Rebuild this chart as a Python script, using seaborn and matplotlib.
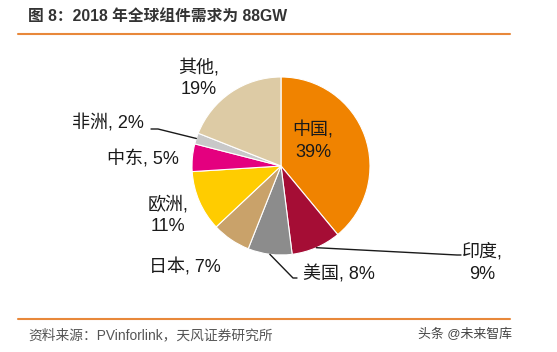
import numpy as np
import seaborn as sns
import matplotlib.pyplot as plt

# 2018 global module demand share
regions = ['中国', '印度', '美国', '日本', '欧洲', '中东', '非洲', '其他']
shares = [39, 9, 8, 7, 11, 5, 2, 19]
colors = ['#F08300', '#A50D35', '#8C8C8C', '#C9A26A', '#FFCC00', '#E4007F', '#C8C8C8', '#DDCBA5']
label_text = ['中国,\n39%', '印度,\n9%', '美国, 8%', '日本, 7%', '欧洲,\n11%', '中东, 5%', '非洲, 2%', '其他,\n19%']

sns.set_theme(style='white')
plt.rcParams['font.family'] = ['Liberation Sans', 'Noto Sans CJK SC', 'DejaVu Sans']

W, H = 557, 352
CX, CY, R = 281, 166, 89   # pie centre / radius in pixels


def px(x, y):
    # pixel position (from top-left) -> data coords of the full-figure axes
    return (x - CX) / R, (CY - y) / R


fig = plt.figure(figsize=(W / 100, H / 100), dpi=100)
ax = fig.add_axes([0, 0, 1, 1])

wedges, _ = ax.pie(shares, colors=colors, startangle=90, counterclock=False,
                   radius=1, wedgeprops=dict(edgecolor='white', linewidth=0.8))
ax.set_xlim(-CX / R, (W - CX) / R)
ax.set_ylim(-(H - CY) / R, CY / R)
ax.set_aspect('equal')
ax.axis('off')

# label centres in pixels
label_pos = {
    '中国': (313, 141),
    '印度': (482, 263),
    '美国': (339, 274),
    '日本': (185, 267),
    '欧洲': (168, 215),
    '中东': (143, 159),
    '非洲': (108, 123),
    '其他': (199, 78),
}
for name, txt in zip(regions, label_text):
    x, y = px(*label_pos[name])
    ax.text(x, y, txt, ha='center', va='center', fontsize=13,
            color='#1a1a1a', linespacing=1.35)


def edge_point(i):
    w = wedges[i]
    ang = np.deg2rad((w.theta1 + w.theta2) / 2)
    return np.cos(ang), np.sin(ang)


# leader lines
leaders = {
    '非洲': [(158, 129), (151, 129)],
    '美国': [(293, 278), (297, 278)],
    '印度': [(457, 255), (461, 255)],
}
for name, pts in leaders.items():
    i = regions.index(name)
    x0, y0 = edge_point(i)
    xs = [x0] + [px(*p)[0] for p in pts]
    ys = [y0] + [px(*p)[1] for p in pts]
    ax.plot(xs, ys, color='#1a1a1a', linewidth=1.0)

# title and source
fig.text(28 / W, 1 - 16 / H, '图 8：2018 年全球组件需求为 88GW', fontsize=11.3,
         fontweight='bold', color='#333333', ha='left', va='center')
fig.add_artist(plt.Line2D([18 / W, 510 / W], [1 - 34 / H, 1 - 34 / H],
                          color='#E8883A', linewidth=1.5))
fig.add_artist(plt.Line2D([18 / W, 510 / W], [1 - 319 / H, 1 - 319 / H],
                          color='#E8883A', linewidth=1.5))
fig.text(28 / W, 1 - 335 / H, '资料来源：PVinforlink，天风证券研究所', fontsize=9.9,
         color='#555555', ha='left', va='center')
fig.text(512 / W, 1 - 335 / H, '头条 @未来智库', fontsize=9.3,
         color='#444444', ha='right', va='center')

fig.savefig('out.png', dpi=100)
